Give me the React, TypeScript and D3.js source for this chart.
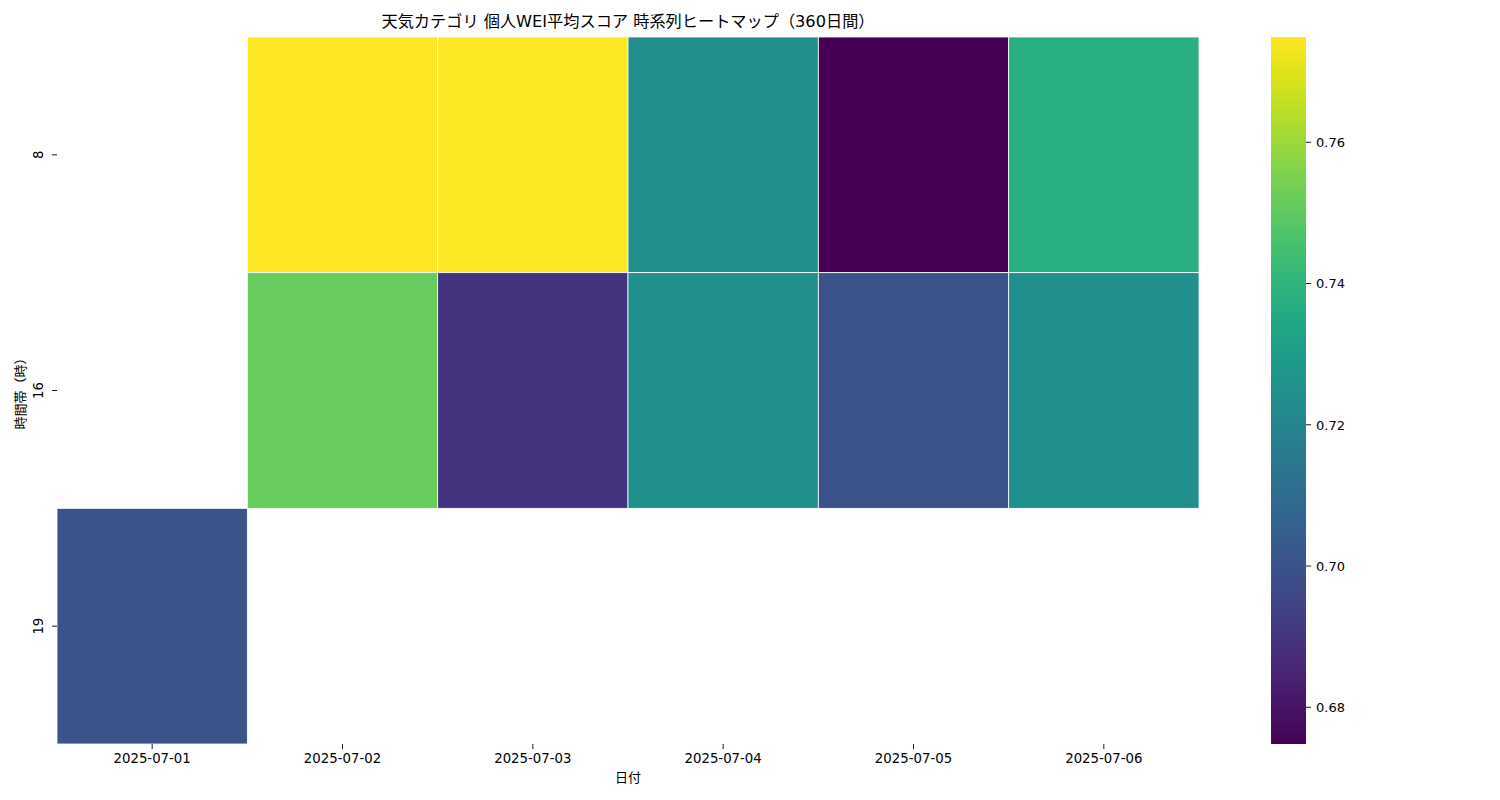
import * as d3 from "d3";

const dates = ["2025-07-01", "2025-07-02", "2025-07-03", "2025-07-04", "2025-07-05", "2025-07-06"];
const hours = ["8", "16", "19"];
// one row per hour, null = no data
const hour8 = [null, 0.7749, 0.7745, 0.7245, 0.6748, 0.7375];
const hour16 = [null, 0.7515, 0.6895, 0.7245, 0.7005, 0.7243];
const hour19 = [0.7003, null, null, null, null, null];
const colorTicks = [0.68, 0.7, 0.72, 0.74, 0.76];
const vMin = 0.6748;
const vMax = 0.7749;

const rows = [hour8, hour16, hour19];
const font = "'DejaVu Sans', 'Noto Sans CJK JP', sans-serif";

const W = 1500;
const H = 800;
const plot = { left: 57, right: 1199, top: 37, bottom: 744 };
const cbar = { left: 1271, right: 1306 };

export default function App() {
  const x = d3.scaleBand().domain(dates).range([plot.left, plot.right]);
  const y = d3.scaleBand().domain(hours).range([plot.top, plot.bottom]);
  const color = d3.scaleSequential(d3.interpolateViridis).domain([vMin, vMax]);
  const cy = d3.scaleLinear().domain([vMin, vMax]).range([plot.bottom, plot.top]);

  const cells = rows.flatMap((vals, ri) =>
    vals.map((v, ci) => ({ hour: hours[ri], date: dates[ci], v }))
  ).filter((c) => c.v !== null);

  const stops = d3.range(0, 1.0001, 0.05);

  return (
    <svg width={W} height={H} style={{ position: "absolute", left: 0, top: 0 }} fontFamily={font}>
      <defs>
        <linearGradient id="cb" x1="0" y1="1" x2="0" y2="0">
          {stops.map((t) => (
            <stop key={t} offset={t} stopColor={d3.interpolateViridis(t)} />
          ))}
        </linearGradient>
      </defs>
      <rect width={W} height={H} fill="#fff" />
      <text x={(plot.left + plot.right) / 2} y={27} textAnchor="middle" fontSize={16.2} fill="#000">
        天気カテゴリ 個人WEI平均スコア 時系列ヒートマップ（360日間）
      </text>

      {cells.map((c) => (
        <rect
          key={c.hour + c.date}
          x={x(c.date)}
          y={y(c.hour)}
          width={x.bandwidth()}
          height={y.bandwidth()}
          fill={color(c.v as number)}
          stroke="#fff"
          strokeWidth={0.8}
        />
      ))}

      {/* x axis */}
      {dates.map((d) => {
        const cx = (x(d) as number) + x.bandwidth() / 2;
        return (
          <g key={d}>
            <line x1={cx} x2={cx} y1={plot.bottom} y2={plot.bottom + 5} stroke="#000" strokeWidth={0.9} />
            <text x={cx} y={plot.bottom + 19} textAnchor="middle" fontSize={13.3}>
              {d}
            </text>
          </g>
        );
      })}
      <text x={(plot.left + plot.right) / 2} y={782} textAnchor="middle" fontSize={13}>
        日付
      </text>

      {/* y axis */}
      {hours.map((h) => {
        const cyy = (y(h) as number) + y.bandwidth() / 2;
        return (
          <g key={h}>
            <line x1={plot.left - 5} x2={plot.left} y1={cyy} y2={cyy} stroke="#000" strokeWidth={0.9} />
            <text
              transform={`translate(${plot.left - 14},${cyy}) rotate(-90)`}
              textAnchor="middle"
              fontSize={13.3}
            >
              {h}
            </text>
          </g>
        );
      })}
      <text transform={`translate(25,${(plot.top + plot.bottom) / 2}) rotate(-90)`} textAnchor="middle" fontSize={13}>
        時間帯（時）
      </text>

      {/* colorbar */}
      <rect x={cbar.left} y={plot.top} width={cbar.right - cbar.left} height={plot.bottom - plot.top} fill="url(#cb)" />
      {colorTicks.map((t) => (
        <g key={t}>
          <line x1={cbar.right} x2={cbar.right + 5} y1={cy(t)} y2={cy(t)} stroke="#000" strokeWidth={0.9} />
          <text x={cbar.right + 10} y={cy(t) + 4.8} fontSize={13}>
            {d3.format(".2f")(t)}
          </text>
        </g>
      ))}
    </svg>
  );
}
